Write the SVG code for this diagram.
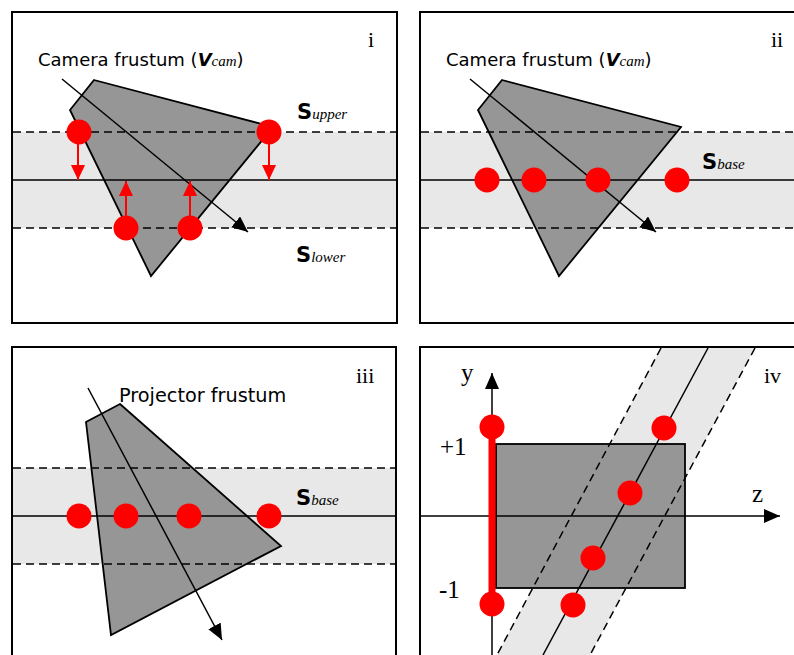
<svg xmlns="http://www.w3.org/2000/svg" width="794" height="655" viewBox="0 0 794 655">
<defs>
<style>
.frame{fill:#fff;stroke:#000;stroke-width:2}
.band{fill:#e8e8e8;stroke:none}
.dash{stroke:#000;stroke-width:1.5;stroke-dasharray:8 5;fill:none}
.solid{stroke:#000;stroke-width:1.5;fill:none}
.frus{fill:#969696;stroke:#000;stroke-width:1.8;stroke-linejoin:miter}
.ray{stroke:#000;stroke-width:1.5;fill:none;marker-end:url(#ah)}
.dot{fill:#ff0000}
.rarr{stroke:#ff0000;stroke-width:2;fill:none;marker-end:url(#rh)}
.lbl{font-family:"DejaVu Sans",Verdana,sans-serif;font-size:18px;fill:#000}
.bi{font-weight:bold;font-style:italic}
.sub{font-family:"Liberation Serif","Times New Roman",serif;font-style:italic;font-size:15px}
.S{font-family:"DejaVu Sans",Verdana,sans-serif;font-weight:bold;font-size:21px}
.rom{font-family:"Liberation Serif","Times New Roman",serif;font-size:22px;fill:#000}
.ax{font-family:"Liberation Serif","Times New Roman",serif;font-size:25px;fill:#000}
</style>
<marker id="ah" markerUnits="userSpaceOnUse" markerWidth="18" markerHeight="16" refX="16" refY="7" orient="auto" viewBox="0 0 18 16">
<path d="M0,0 L16,7 L0,14 Z" fill="#000"/>
</marker>
<marker id="rh" markerUnits="userSpaceOnUse" markerWidth="16" markerHeight="16" refX="15" refY="7" orient="auto" viewBox="0 0 16 16">
<path d="M0,0 L15,7 L0,14 Z" fill="#ff0000"/>
</marker>
<marker id="ak" markerUnits="userSpaceOnUse" markerWidth="18" markerHeight="16" refX="16" refY="7" orient="auto" viewBox="0 0 18 16">
<path d="M0,0 L16,7 L0,14 Z" fill="#000"/>
</marker>
</defs>
<rect width="794" height="655" fill="#fff"/>

<!-- Panel i -->
<g id="panel-i">
<rect class="frame" x="12" y="12" width="385" height="311"/>
<rect class="band" x="13" y="132" width="383" height="96"/>
<polygon class="frus" points="94,80 273,127 151,276 70,110"/>
<line class="dash" x1="13" y1="132" x2="396" y2="132"/>
<line class="solid" x1="13" y1="180" x2="396" y2="180"/>
<line class="dash" x1="13" y1="228" x2="396" y2="228"/>
<line class="ray" x1="62" y1="79" x2="248" y2="232"/>
<circle class="dot" cx="79" cy="132" r="12.5"/>
<circle class="dot" cx="269" cy="132" r="12.5"/>
<circle class="dot" cx="126" cy="228" r="12.5"/>
<circle class="dot" cx="190" cy="228" r="12.5"/>
<line class="rarr" x1="78" y1="144" x2="78" y2="180"/>
<line class="rarr" x1="269" y1="144" x2="269" y2="180"/>
<line class="rarr" x1="126" y1="216" x2="126" y2="181"/>
<line class="rarr" x1="190" y1="216" x2="190" y2="181"/>
<text class="lbl" x="38" y="66">Camera frustum (<tspan class="bi">V</tspan><tspan class="sub">cam</tspan>)</text>
<text x="297" y="119"><tspan class="S">S</tspan><tspan class="sub">upper</tspan></text>
<text x="296" y="262"><tspan class="S">S</tspan><tspan class="sub">lower</tspan></text>
<text class="rom" x="368" y="47">i</text>
</g>

<!-- Panel ii -->
<g id="panel-ii">
<rect class="frame" x="420" y="12" width="400" height="311"/>
<rect class="band" x="421" y="132" width="373" height="96"/>
<polygon class="frus" points="502,80 681,127 559,276 478,110"/>
<line class="dash" x1="421" y1="132" x2="794" y2="132"/>
<line class="solid" x1="421" y1="180" x2="794" y2="180"/>
<line class="dash" x1="421" y1="228" x2="794" y2="228"/>
<line class="ray" x1="470" y1="79" x2="656" y2="232"/>
<circle class="dot" cx="487" cy="180" r="12.5"/>
<circle class="dot" cx="534" cy="180" r="12.5"/>
<circle class="dot" cx="598" cy="180" r="12.5"/>
<circle class="dot" cx="677" cy="180" r="12.5"/>
<text class="lbl" x="446" y="66">Camera frustum (<tspan class="bi">V</tspan><tspan class="sub">cam</tspan>)</text>
<text x="702" y="169"><tspan class="S">S</tspan><tspan class="sub">base</tspan></text>
<text class="rom" x="771" y="47">ii</text>
</g>

<!-- Panel iii -->
<g id="panel-iii">
<rect class="frame" x="12" y="347" width="384" height="400"/>
<rect class="band" x="13" y="468" width="382" height="96"/>
<polygon class="frus" points="120,404 281,546 111,635 86,422"/>
<line class="dash" x1="13" y1="468" x2="395" y2="468"/>
<line class="solid" x1="13" y1="516" x2="395" y2="516"/>
<line class="dash" x1="13" y1="564" x2="395" y2="564"/>
<line class="ray" x1="88" y1="388" x2="222" y2="640"/>
<circle class="dot" cx="79" cy="516" r="12.5"/>
<circle class="dot" cx="126" cy="516" r="12.5"/>
<circle class="dot" cx="189" cy="516" r="12.5"/>
<circle class="dot" cx="269" cy="516" r="12.5"/>
<text class="lbl" x="119" y="402" style="font-size:19.3px">Projector frustum</text>
<text x="296" y="505"><tspan class="S">S</tspan><tspan class="sub">base</tspan></text>
<text class="rom" x="356" y="383">iii</text>
</g>

<!-- Panel iv -->
<g id="panel-iv">
<rect class="frame" x="420" y="347" width="400" height="400"/>
<polygon class="band" points="661,348 755,348 590,655 497,655"/>
<rect class="frus" x="496" y="444" width="189" height="144"/>
<line class="dash" x1="661" y1="348" x2="497" y2="655"/>
<line class="dash" x1="755" y1="348" x2="590" y2="655"/>
<line class="solid" x1="708" y1="348" x2="543" y2="655"/>
<line class="solid" x1="421" y1="516" x2="780" y2="516" style="marker-end:url(#ak)"/>
<line class="solid" x1="492" y1="655" x2="492" y2="373" style="marker-end:url(#ak)"/>
<line x1="492" y1="427" x2="492" y2="604" stroke="#ff0000" stroke-width="7"/>
<circle class="dot" cx="492" cy="427" r="12.5"/>
<circle class="dot" cx="492" cy="604" r="12.5"/>
<circle class="dot" cx="664" cy="428" r="12.5"/>
<circle class="dot" cx="630" cy="493" r="12.5"/>
<circle class="dot" cx="593" cy="558" r="12.5"/>
<circle class="dot" cx="573" cy="605" r="12.5"/>
<text class="ax" x="461" y="381">y</text>
<text class="ax" x="752" y="502">z</text>
<text class="ax" x="440" y="455">+1</text>
<text class="ax" x="439" y="598">-1</text>
<text class="rom" x="764" y="383">iv</text>
</g>
</svg>
